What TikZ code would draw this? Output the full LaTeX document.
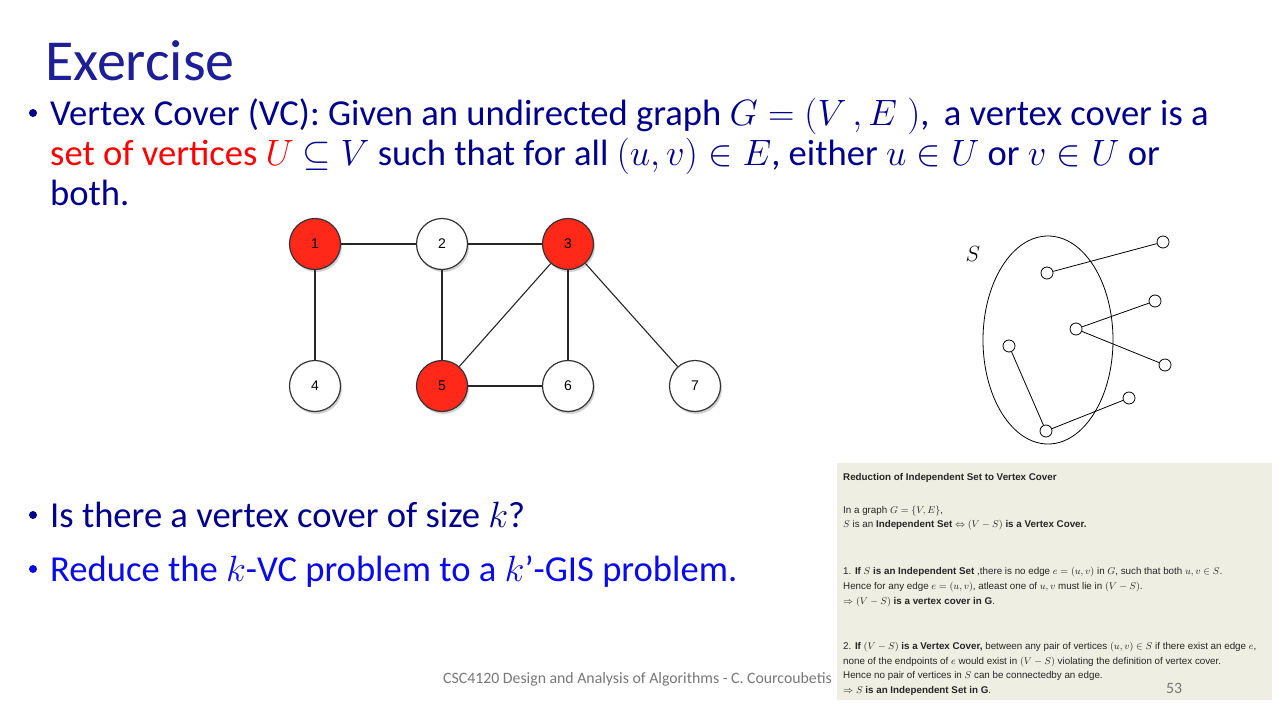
\RequirePackage{fix-cm}
\documentclass[tikz,border=0pt]{standalone}
\usepackage{fontspec}
\setmainfont{Carlito}
\newfontfamily\helv{Liberation Sans}
\usetikzlibrary{shadows}
\definecolor{navy}{RGB}{0,0,140}
\definecolor{titleblue}{RGB}{30,30,150}
\definecolor{brightblue}{RGB}{10,10,235}
\definecolor{vred}{RGB}{255,40,25}
\definecolor{insetbg}{RGB}{238,238,226}
\definecolor{footgray}{RGB}{120,120,120}
\tikzset{
  vtx/.style={circle,draw=black!80,line width=1.2pt,minimum size=51pt,inner sep=0pt,
    fill=white,font=\helv\fontsize{14}{14}\selectfont,
    drop shadow={opacity=0.35,shadow xshift=1.5pt,shadow yshift=-2.5pt}},
  redv/.style={vtx,fill=vred},
  gedge/.style={line width=1.1pt,black!85},
  sv/.style={circle,draw=black,line width=0.8pt,minimum size=12pt,inner sep=0pt,fill=white},
  sedge/.style={line width=0.8pt,black},
  body/.style={anchor=base west,inner sep=0pt,text=navy,font=\fontsize{36.6}{40}\selectfont},
  bul/.style={circle,fill=navy,inner sep=0pt,minimum size=8pt},
  inset/.style={anchor=base west,inner sep=0pt,text=black!85,font=\helv\fontsize{9.8}{11}\selectfont},
}
\begin{document}
\begin{tikzpicture}[x=1pt,y=-1pt]
\useasboundingbox[fill=white] (0,0) rectangle (1280,720);

% title
\node[anchor=base west,inner sep=0pt,text=titleblue,font=\fontsize{58}{60}\selectfont] (title) at (45,80) {Exercise};

% first bullet
\node[bul] (b1) at (33,113) {};
\node[body,anchor=north west,align=left] (l1) at (50,98) {Vertex Cover (VC): Given an undirected graph $G=(V\,,E\;)$,\, a vertex cover is a\\
\textcolor{red}{set of vertices $U$} $\subseteq V$ such that for all $(u,v)\in E$, either $u\in U$ or $v\in U$ or\\
both.};

% bullets 2 and 3
\node[bul] (b2) at (33,515) {};
\node[body] (l4) at (50,527) {Is there a vertex cover of size $k$?};
\node[bul,fill=brightblue] (b3) at (33,569) {};
\node[body,text=brightblue] (l5) at (50,581) {Reduce the $k$-VC problem to a $k$'-GIS problem.};

% left graph
\node[redv] (n1) at (315,244) {1};
\node[vtx] (n2) at (442,244) {2};
\node[redv] (n3) at (568,244) {3};
\node[vtx] (n4) at (315,386) {4};
\node[redv] (n5) at (442,386) {5};
\node[vtx] (n6) at (568,386) {6};
\node[vtx] (n7) at (695,386) {7};
\draw[gedge] (n1) -- (n2);
\draw[gedge] (n2) -- (n3);
\draw[gedge] (n1) -- (n4);
\draw[gedge] (n2) -- (n5);
\draw[gedge] (n3) -- (n5);
\draw[gedge] (n3) -- (n6);
\draw[gedge] (n3) -- (n7);
\draw[gedge] (n5) -- (n6);

% right figure
\draw[sedge] (1048,340) ellipse [x radius=65, y radius=104];
\node[anchor=center,inner sep=0pt,font=\fontsize{22}{22}\selectfont] (S) at (973,254) {$S$};
\node[sv] (a) at (1047,273) {};
\node[sv] (b) at (1163,242) {};
\node[sv] (c) at (1076,329) {};
\node[sv] (d) at (1155,301) {};
\node[sv] (e) at (1165,365) {};
\node[sv] (f) at (1009,346) {};
\node[sv] (g) at (1046,431) {};
\node[sv] (h) at (1129,398) {};
\draw[sedge] (a) -- (b);
\draw[sedge] (c) -- (d);
\draw[sedge] (c) -- (e);
\draw[sedge] (f) -- (g);
\draw[sedge] (g) -- (h);

% inset
\fill[insetbg] (837,463) rectangle (1272,700);
\node[inset] (i1) at (843,480) {\bfseries Reduction of Independent Set to Vertex Cover};
\node[inset] (i2) at (843,513) {In a graph $G=\{V,E\}$,};
\node[inset] (i3) at (843,527) {$S$ is an \textbf{Independent Set} $\Leftrightarrow$ $(V-S)$ \textbf{is a Vertex Cover.}};
\node[inset] (i4) at (843,574) {1. \textbf{If} $S$ \textbf{is an Independent Set} ,there is no edge $e=(u,v)$ in $G$, such that both $u,v\in S$.};
\node[inset] (i5) at (843,589) {Hence for any edge $e=(u,v)$, atleast one of $u,v$ must lie in $(V-S)$.};
\node[inset] (i6) at (843,604) {$\Rightarrow$ $(V-S)$ \textbf{is a vertex cover in G}.};
\node[inset] (i7) at (843,649) {2. \textbf{If} $(V-S)$ \textbf{is a Vertex Cover,} between any pair of vertices $(u,v)\in S$ if there exist an edge $e$,};
\node[inset] (i8) at (843,664) {none of the endpoints of $e$ would exist in $(V-S)$ violating the definition of vertex cover.};
\node[inset] (i9) at (843,678) {Hence no pair of vertices in $S$ can be connectedby an edge.};
\node[inset] (i10) at (843,693) {$\Rightarrow$ $S$ \textbf{is an Independent Set in G}.};

% footer
\node[anchor=base east,inner sep=0pt,text=footgray,font=\fontsize{15.8}{17}\selectfont] (foot) at (832,683) {CSC4120 Design and Analysis of Algorithms - C. Courcoubetis};
\node[anchor=base west,inner sep=0pt,text=footgray,font=\fontsize{15.8}{17}\selectfont] (pg) at (1166,693) {53};
\end{tikzpicture}
\end{document}
